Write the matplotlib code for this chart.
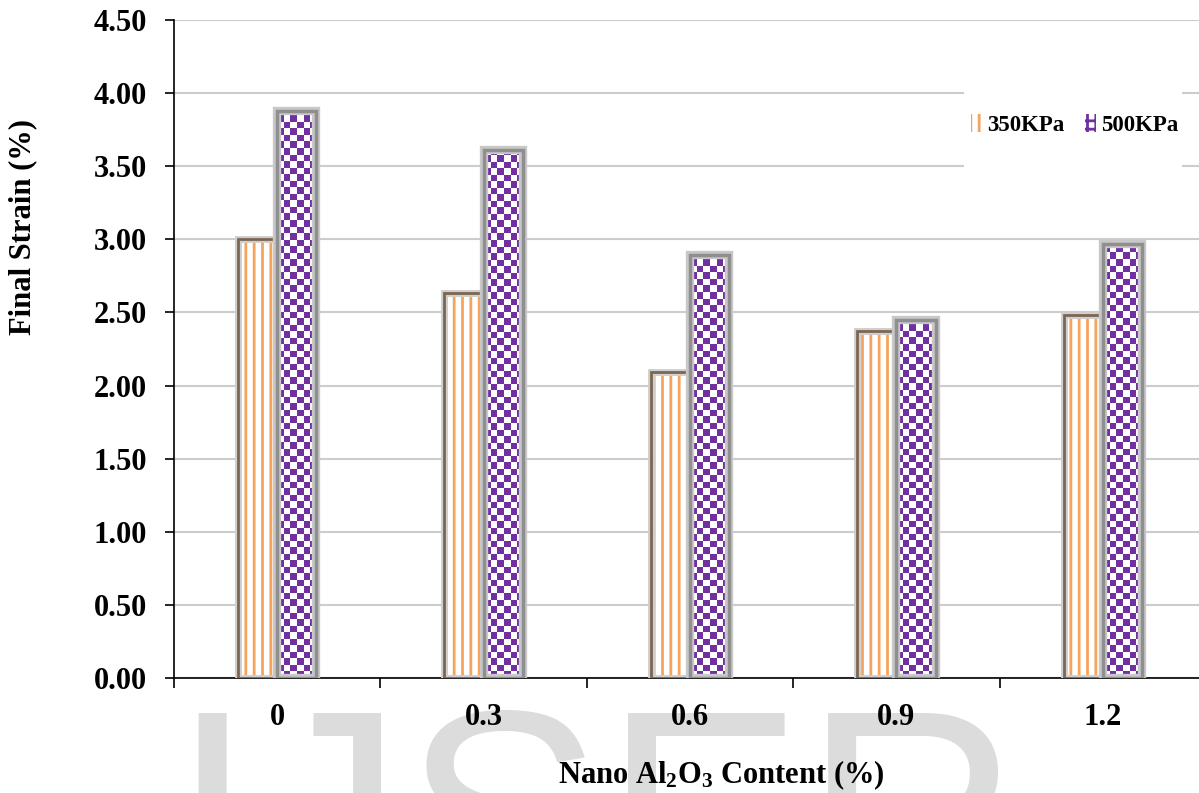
import matplotlib.pyplot as plt
import matplotlib.patheffects as pe
import numpy as np
from matplotlib.colors import ListedColormap
from matplotlib.patches import Patch, Rectangle

plt.rcParams['font.family'] = 'Liberation Serif'
plt.rcParams['font.weight'] = 'bold'
plt.rcParams['axes.labelweight'] = 'bold'
plt.rcParams['mathtext.fontset'] = 'custom'
plt.rcParams['mathtext.bf'] = 'Liberation Serif:bold'
plt.rcParams['mathtext.rm'] = 'Liberation Serif:bold'
plt.rcParams['mathtext.default'] = 'bf'
plt.rcParams['hatch.linewidth'] = 2.0

# Nano Al2O3 content and final strain at two pressures
content = ['0', '0.3', '0.6', '0.9', '1.2']
strain_350 = [3.00, 2.63, 2.09, 2.37, 2.48]
strain_500 = [3.88, 3.61, 2.89, 2.45, 2.97]
y_ticks = np.arange(0, 4.51, 0.5)
series_names = ['350KPa', '500KPa']

orange = '#F6A35C'
purple = '#7030A0'

fig = plt.figure(figsize=(11.99, 7.93), dpi=100)
ax = fig.add_axes([0.1451, 0.1450, 0.8607, 0.8298])

x = np.arange(len(content))
w = 0.19

# 350 KPa: vertical orange stripes
ax.bar(x - w / 2, strain_350, w, color='white', edgecolor=orange,
       hatch='||', lw=0, zorder=2)
ax.bar(x - w / 2, strain_350, w, facecolor='none', edgecolor='#7d6650', lw=2,
       zorder=3, path_effects=[pe.withStroke(linewidth=5, foreground='#cfcfcf')])

# 500 KPa: purple checkerboard
b500 = ax.bar(x + w / 2, strain_500, w, color='white', lw=0, zorder=2)
ax.bar(x + w / 2, strain_500, w, facecolor='none', edgecolor='#8f8f8f', lw=2.5,
       zorder=3, path_effects=[pe.withStroke(linewidth=6, foreground='#c8c8c8')])

ax.set_xlim(-0.5, 4.5)
ax.set_ylim(0, 4.5)

tx = ax.transData
checker_cmap = ListedColormap(['white', purple])
for bar in b500:
    x0, bw, h = bar.get_x(), bar.get_width(), bar.get_height()
    cell_px = (tx.transform((x0 + bw, 0))[0] - tx.transform((x0, 0))[0]) / 6
    unit_px = tx.transform((0, 1))[1] - tx.transform((0, 0))[1]
    cy = cell_px / unit_px
    rows = int(np.ceil(h / cy))
    board = np.indices((rows, 6)).sum(axis=0) % 2
    im = ax.imshow(board, cmap=checker_cmap, extent=(x0, x0 + bw, 0, rows * cy),
                   origin='lower', interpolation='nearest', aspect='auto', zorder=2.5)
    im.set_clip_path(bar)

ax.set_xlim(-0.5, 4.5)
ax.set_ylim(0, 4.5)

# ticks: labels at group centres, marks between groups
ax.set_xticks(x, content)
ax.set_xticks(np.arange(-0.5, 5, 1), minor=True)
ax.tick_params(axis='x', which='major', length=0, pad=18, labelsize=22)
ax.tick_params(axis='x', which='minor', length=7, width=1.2, color='black')
ax.set_yticks(y_ticks, [f'{v:.2f}' for v in y_ticks])
ax.tick_params(axis='y', length=6.5, width=1.2, pad=13, labelsize=22)

ax.yaxis.grid(True, color='#cccccc', lw=1.5)
ax.set_axisbelow(True)
for s in ['top', 'right']:
    ax.spines[s].set_visible(False)
for s in ['left', 'bottom']:
    ax.spines[s].set_linewidth(1.2)

ax.set_ylabel('Final Strain (%)', fontsize=22, va='center')
ax.yaxis.set_label_coords(-0.147, 0.685)
ax.set_xlabel(r'Nano Al$_2$O$_3$ Content (%)', fontsize=22, va='center')
ax.xaxis.set_label_coords(0.53, -0.147)

# white legend area that hides the gridlines behind it
ax.add_patch(Rectangle((0.766, 0.757), 0.211, 0.152, transform=ax.transAxes,
                       facecolor='white', edgecolor='none', zorder=1))

handles = [Patch(facecolor='white', edgecolor=orange, hatch='||', lw=0),
           Patch(facecolor='white', edgecolor=purple, hatch='++', lw=0)]
ax.legend(handles, series_names, ncol=2, loc='center',
          bbox_to_anchor=(0.873, 0.840), frameon=False, fontsize=16.5,
          handlelength=0.45, handleheight=0.8, handletextpad=0.25,
          columnspacing=0.9, borderpad=0.3)

# journal watermark along the bottom edge
fig.text(0.1418, -0.16, 'IJSER', fontsize=216, family='Liberation Sans',
         weight='normal', color='#dcdcdc', ha='left', va='baseline', zorder=-1)

fig.savefig('out.png', dpi=100)
